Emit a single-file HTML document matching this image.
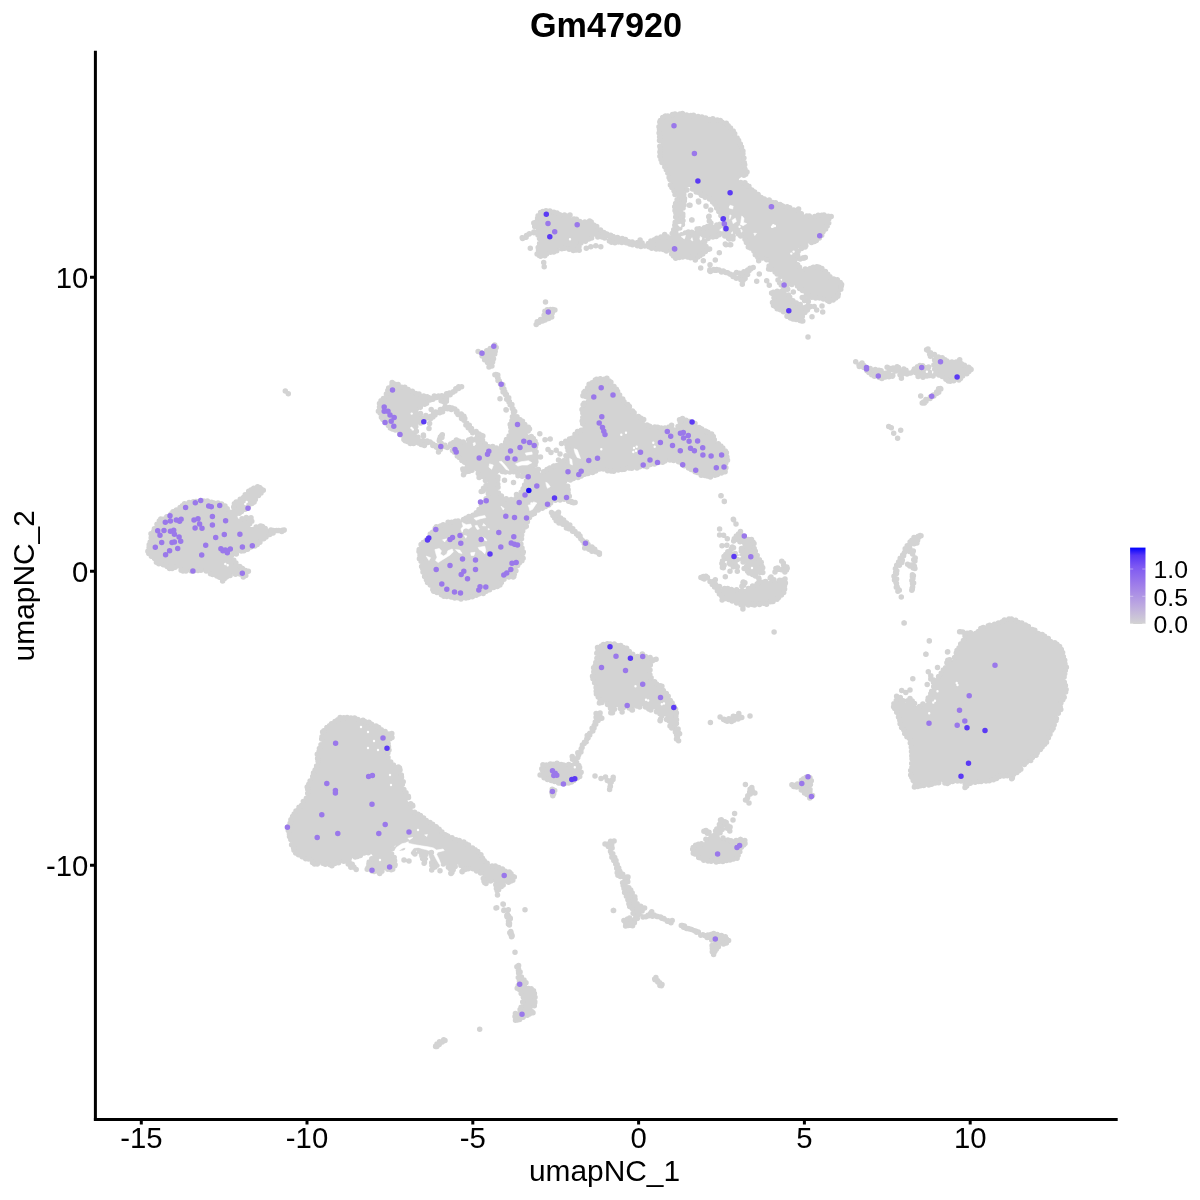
<!DOCTYPE html>
<html lang="en">
<head>
<meta charset="utf-8">
<title>Gm47920</title>
<style>
html,body{margin:0;padding:0;background:#fff;}
body{width:1200px;height:1200px;overflow:hidden;}
svg{display:block;}
text{font-family:"Liberation Sans",sans-serif;fill:#000;}
.tick{font-size:29.3px;}
.atitle{font-size:29.9px;}
.title{font-size:34.2px;font-weight:bold;}
.leg{font-size:24.8px;}
</style>
</head>
<body>
<svg width="1200" height="1200" viewBox="0 0 1200 1200">
<defs>
<linearGradient id="cb" x1="0" y1="1" x2="0" y2="0">
<stop offset="0" stop-color="#d3d3d3"/>
<stop offset="0.25" stop-color="#bca8e0"/>
<stop offset="0.5" stop-color="#a07fe9"/>
<stop offset="0.75" stop-color="#7d58f2"/>
<stop offset="0.9" stop-color="#5635f6"/>
<stop offset="1" stop-color="#0000ff"/>
</linearGradient>
</defs>
<rect width="1200" height="1200" fill="#fff"/>
<g id="points">
<path d="M970.1 633.3 964.7 633.9 963.9 638.5 956.4 651.1 953.7 658.9 952.3 659.9 948.5 660.6 945.5 668 940.3 674.8 935.5 678.8 933 679.8 934.1 684.6 934.1 685.7 930.6 694.3 926.7 702.6 919.5 706.4 918 706.6 916.7 706 909.8 699.8 906.2 702.2 904.5 702.4 903.2 701.7 900.3 698.2 897.2 697.7 893.5 704.5 894.8 709 899 715.7 900.7 724.2 905.5 733.7 910.7 741 912.5 758.3 910.9 776.2 913.2 780.8 915.1 785.8 919.8 785.8 926.2 785 941.4 781.7 948 783.2 954.8 780 962.4 781 967 784.5 972.6 781.8 983 781.7 992.6 779.3 999.7 776.7 1006.6 775.8 1011.6 776.5 1015.2 772.9 1020.6 769.9 1023.3 764.8 1030.1 760.5 1040.6 750 1044.6 744.5 1047.8 738.8 1054.4 725.7 1056.7 719.3 1058.4 709.3 1064.3 697.5 1065.8 690 1064.2 680.1 1065.8 669.9 1065 660.5 1062.7 652.6 1059.7 646.7 1045.3 637.1 1025.5 625.5 1017.4 621.5 1009.9 619.3 1004.1 620.7 997.4 623.2 989 624.9 981.4 628 976.8 632.6 975.7 633.2ZM930.2 372.8 927.6 367.6 920.3 366 913.8 369.5 913.8 370.6 915.3 373.1 918.5 376.3 922.7 376.8 928.7 376.2 931.2 375.2 931.2 373.5ZM934.4 371.9 935.3 372.5 936.2 373.8 941.2 375.2 945.4 379.2 949.7 381.1 959.9 379.1 961.9 376.6 966.6 373.9 969.3 371.8 970.6 368.7 970.1 367.9 961.3 363.5 959.5 361.6 957.6 362.5 949.8 362.3 944.3 359 937.5 356.9 927.8 350.3 929.3 354.9 933.4 357.3 934.4 358.6ZM940.5 389.1 939.9 389.1 937.5 392 928 399 923.2 402.1 928.2 399.5 938 392.3ZM897.8 588.7 896.2 576 897.7 568.4 901.7 562.9 903 557.8 906.2 551.6 908.3 550.8 911.9 552.3 913.2 550.7 912.2 547.1 912.4 545.7 913.3 544.6 916.6 542.9 917.8 538.8 920.5 535.5 919.1 535.3 914.7 537.4 911.2 540.4 907.5 545.3 895.7 568.8 894.5 574.8 895.1 580.8ZM912.9 563.2 912.2 564 909.8 565.4 909.8 565.8 913 567.4 913.9 567.2 914.1 566.2ZM914 560.3 914.7 559.4 914.6 559.2 914.4 559.2ZM911.9 589.5 912.3 589.1 913.3 584.9 912.9 580.7 913.1 575.8 912.4 580.5 912.8 584.8ZM889.3 368.5 897.4 371.9 900.9 375.2 903 373 907.3 372.8 905.2 370.1 897 367ZM881.9 378.1 890.6 375.5 889.7 375 883.4 373.5 881.1 370.3 876.7 369.8 865.8 367 862 364.4 860.2 365.7 863 367.4 871.4 375.1 876.7 376.9ZM534.9 231.9 537.8 233.4 540.8 239.4 540.8 240.6 538.3 247.1 538.3 253.3 540.4 255.8 544.2 255.8 548.9 252.8 555.6 251 559.5 248.4 567 248.4 573.5 250 578.3 249.4 581.2 242.9 582 242 588.8 239.5 592.7 236.8 600 236.7 607.7 238.6 611.2 241.8 616.7 242.5 623.8 241.7 632.3 244.2 667.4 250.9 668.4 251.6 674.4 257.5 697.6 257.5 701.1 254.1 704.9 251.5 706.1 249.8 708.1 249 706.4 246.5 703.9 241.3 704 239.6 704.9 238.5 714.1 236.2 716.4 236.2 721.1 235.1 726.4 236.4 728.9 238.7 732.1 237.9 732.6 236.4 731.3 234.2 731.3 232.6 732.7 231.2 734.6 231.2 736.2 232.1 738.1 233.9 741.7 235.9 744.8 240 748.6 246.3 755.4 251.9 757.7 257.5 763.4 257.5 764.7 258 768.9 263 769.7 268 784.6 279.5 784.9 281.2 784.1 282.6 782.8 283.2 780.8 283 781.5 286.8 780.8 288.6 776.5 291.6 771.7 292.8 771.6 293.2 773.7 296.7 773.8 297.7 772.6 302.4 774.6 306.4 779.2 309.8 784.9 312 787.8 316.2 791 318.3 797.4 319.6 800.7 321.2 801.5 320.8 800.9 319.1 801 317.7 803.9 313.3 811.3 306.3 809.4 304.7 808.1 300.6 805.7 300.1 806.5 302.1 806.3 303.5 805.3 304.6 803.1 305.2 795.5 303.5 790.9 299.1 786.9 293.8 786.6 292.6 786.8 291.4 790.4 284.7 792.5 284.2 796.7 285.9 802.2 290 806.1 293.9 810.6 296.2 824 298.9 829 301.4 832.9 300.4 837.3 297.1 841.9 285.1 839 281.3 832.5 278 826.9 273.8 821.9 268.7 817.7 266.6 807.7 269.1 801.7 268.5 800.2 267.7 796.9 263.1 797.4 261.1 800.9 258.6 798.8 258.3 797.6 256.8 797.5 250.5 797.9 249.1 799.4 248.1 804.6 247.1 807.3 243.9 814.2 241.7 818.9 238.2 822.6 233.3 826.4 226.9 829.8 217.3 828.8 216.3 822.1 215.2 812.5 217.2 802.6 214.4 798.4 212.5 797.7 211.5 797.5 210 792.5 209 764.5 199 755.9 194 745.4 183.6 740.3 182.3 739 180.9 738.9 179.5 739.4 178.4 743.7 175.4 746.5 172.7 744.2 165.7 742.9 156.4 742.8 148.6 737.2 137.2 732.7 130.2 726.5 124.1 719.2 120.4 706.2 118.5 692.9 115.8 681.3 113.9 667.4 115.8 661.8 118.6 659.8 122 659.8 134.6 660.5 144.1 659.2 151.9 661.7 160.5 664.9 168.3 669 176.5 671 184.5 674.3 191.1 677.2 198.5 675.2 206.9 675.8 217.7 674.4 226 672.1 234.2 671.2 235.3 665.6 236.5 664.1 236.3 655.9 239 652.2 240.5 648.5 244.2 647.3 244.8 646.1 244.7 640.7 242.9 629.5 241.6 609.2 234.9 602.2 231.4 595.2 226.2 590.6 221.7 581 221.6 572.2 218 569.1 215.1 562.9 215.8 554.3 212.4 546.7 210.9 541.5 212.2 534.3 223 535.8 229.9 535.6 231.1ZM683.1 209.2 684.4 201.2 684.3 192.6 687.6 187.6 688.8 186.9 690.1 186.9 700 193.9 711.1 199.5 718.1 210.6 723.9 218.2 724.2 220.3 722 223.4 717 225.4 714 225.1 710.2 223.2 708.9 225.1 707.4 226.3 698.2 229 692.8 231.7 681.3 234.3 680.1 234.2 678.7 233.3 678.3 231.7 681.6 224.6 682.6 217.1ZM809.6 788.6 811 780.1 810.2 777.5 805.9 777.5 799.3 783.2 793.5 785.4 793.8 786.1 800.4 788.9 805.6 794 809.7 796.5 811.2 795.1ZM784.7 570.6 786.8 568.8 786.8 566.6 783.8 564.7 783.6 566.3 782.5 567.5 777.2 567.8 776.6 568.6 776.8 569.5 780.3 569.5ZM722.6 598.3 725 597.5 726.4 597.7 733.1 601.8 739.8 604.5 743 607 748.9 604.2 754.7 605.4 759.8 604.2 766.2 603.5 772.4 601.7 777.2 599.3 780.7 595.7 783 592.3 785.4 582.9 784.4 580.5 774.4 580.5 771.2 578.7 768.8 581 757 583.7 751.3 587.8 745.9 589.1 744.7 589.1 743.1 587.9 742.8 585.3 740.5 588.4 739.4 589 730.5 589.2 721.5 588.2 717 585.8 713.9 581.2 711.8 581.2 710.6 580.8 707.4 577 703.6 576.6 702.9 577.3 704.1 578.6 708.7 580.6 713.3 585.1 716.6 590.4 720.8 594.6ZM723.1 567.1 723.5 567.5 723.7 562.7 724.7 561.3 726.1 560.9 727.3 561.2 730.2 564 734.5 563.1 736.8 559.4 736.7 557.7 737.1 556.6 738.3 555.7 739.7 555.6 741.2 556.5 742.3 560.2 746.2 564.8 746.5 566.2 745.8 568.1 747.5 569.4 748.6 572.6 753 573.7 757.5 577 757.5 575.5 758.1 574.4 761.7 571.9 762.1 568.1 761 562.3 755 552.9 753.5 546.8 754 542.4 751.6 540.4 746.6 539.4 740.3 533.1 738.9 534 734.2 539 734.5 539.8 737.2 540.5 741.6 543.4 742.3 544.3 742.5 545.7 740.9 553.2 739.9 554.2 738.2 554.5 733 552 731.7 550.5 731.6 549.2 732.2 548 731.6 548 727.7 551.9 724.4 556.8 723.1 561.5ZM751 789.3 750 789.8 747.4 796.7 746.9 799.5 747.1 799.6 748.1 796.4 752.8 792.4ZM735.8 276.5 726.1 272.5 718.3 269.8 709.8 270.6 710.3 270.9 718.5 270.4 726 272.9 733.8 276.2 741.2 279.9 742.4 281.1 744 279.7 746.5 274.7 750.9 268.7 744.1 271.7 738.7 273.5 738.4 275.2 737.2 276.3ZM736.3 857.9 739.9 850.7 744.3 843.6 743.8 841.5 740.3 839.2 738.2 840.5 729.7 840.5 721.4 838.4 720.3 837.9 719.7 836.9 719.6 835.4 722.1 828.4 723.1 827.7 724.3 827.5 728.6 828.9 729.2 827.2 726.4 822.2 721.3 820.9 718.1 827.3 713.4 833.1 711.6 833.5 706.3 830.9 705.6 831.5 708.2 834.8 708.5 836.5 703.8 842.7 702.6 843.4 695.4 845.2 692.8 848.6 694.2 853.6 699.3 857.8 706.6 860.5 717.9 861.5 729.5 859.6ZM724.1 719.5 726.8 721.8 731.3 721.5 739.4 717.2 738 715.3 734.9 716.3 728.7 719.4ZM423.5 436.9 422.5 438 421.4 438.5 420.2 438.5 419.1 437.9 416.4 433.8 415.2 428.8 415.6 427.7 418.1 424.6 421.5 422.2 425.8 417.8 427.6 417.2 429.9 418.6 430.9 418.4 446.2 409.1 452 410 456.2 412.6 460.3 415.8 466.6 425.7 470.9 431.1 474.6 433.7 475.1 434.8 474.8 436.3 474.1 437.2 466.5 442.2 458.1 441.8 456.7 441.4 449.7 445.1 443.5 445.7 441.9 445.1 440.1 442.8 440.3 444.6 439.4 446 440.4 447.1 441.4 446.3 442.6 446.1 450 447.9 451.1 448.8 452 450.5 456.3 452.8 458.2 456.3 460.1 457.1 464.8 463.6 464.9 465.3 462.8 470.4 464.2 472.3 472.6 469.7 474.1 469.8 479.5 475 481.1 474.5 482.7 475.1 487.3 482.1 487 484 483.9 488 483.3 491 484.8 491.7 486.1 491.7 487.2 492.2 487.9 493.2 488 494.7 482.7 504.6 479.3 509.8 471.2 516.2 460.5 520.8 449.6 522.4 436.6 527.1 429.5 536.5 422.1 544 418.8 550.4 420 559.5 422.4 569.2 427.2 581.3 434.1 590.5 445.8 596.3 459.9 598.7 476.8 595.1 489 590.2 498.5 585.4 506.3 577.8 513.3 577.5 518.8 563.9 522.8 558.5 522.4 555.9 523.6 552.5 520 542.2 522.6 529.1 523.4 527.9 526.3 526 527.8 518.8 540.7 508.9 546.7 505.8 551.4 502.8 557.6 499.7 566.5 499.5 572 502.2 572.5 501.9 569.6 498.2 566.5 484.1 567.1 482.3 570.9 479.5 583.8 473.8 592.5 472.3 598 469 600.5 468.3 603.3 468.6 610.3 471.2 622.1 470 634.5 467.5 646.9 466.3 654.4 463.3 672 460.2 679.6 461.7 688 467.2 701 475 708.1 476.8 717.9 474.9 724.5 471.6 727.5 458.5 726.9 453 722.2 447.1 715.4 441.6 712.7 435 706.8 431.5 698.6 427.4 694.7 423.6 682.7 420 680.6 420.7 678.2 426.5 676.9 427.7 675.5 427.8 671.9 426.6 666.9 427.8 660 428.5 654.5 426.6 653 426.8 646.3 424.7 643.4 420.3 636.9 415.1 630.1 408.3 623 399.9 617.9 391.4 610.7 381.7 606.7 378.4 595.9 379.9 592.3 382 589.4 384.2 584.8 392.7 584.8 394 584.3 395.4 586.1 397.3 586.5 398.8 586.1 400 582.5 404.8 582.4 428.1 581.7 429.2 578.1 431.9 574.1 436 567.2 441.4 567.5 443.5 567.5 452.8 565 460 556.8 465.1 550.7 468.2 542.9 472.8 541.7 473 540.4 472.4 535.6 467.6 535.1 466.5 536.5 457 535 449.3 536.4 443.8 534 439.1 527.7 434.1 527.6 432.4 528.7 428.9 526.6 425.6 515.9 414.8 512.7 407.4 496.3 374.8 496.1 375.3 512.2 407.5 513.9 411.9 512.9 417.2 510.1 424.2 511.5 430.4 508.2 438.7 503 444 497.8 447.9 496.7 448.2 492.9 447.2 486.6 446.1 485.5 445.5 481.7 439.3 481.7 437.8 482.5 436.2 482.3 435.5 472.5 429.9 468.2 424.5 461.9 414.6 457.3 410.9 453.1 408.3 445.7 407 428.7 417 423.3 415.7 419.1 412.9 418.5 411.6 418.6 410.2 422.4 405.6 431.5 399.3 436.1 397 430.3 397.9 421.2 395.7 396.3 384.3 392.7 383.6 389.5 387.6 385.1 396.2 380 403.4 379.1 410.8 380.9 415.5 384 420.6 387.1 424.7 390.9 428.5 396.3 430.7 399.4 433.8 403.3 434.8 404.3 435.5 405 437.2 404.2 440 405.1 441.5 413.6 443.3 420.1 443.4 423.9 444.3 428.1 442.3 430.5 443 430.1 442.4 425.9 440.2ZM518.4 472.5 519.6 473.1 525.9 479.4 526.4 480.5 526.3 481.9 520.1 494.4 515.3 499.3 513.7 500 506.6 499.8 500 495 499.1 493.8 497.5 488.8 497.7 474 499.3 472.6 507.3 471ZM437.3 396.8 438.9 397.5 440.9 400.3 443.4 400.9 445.9 399.7 446.7 396.3 447.4 395.3 453 392.8 455.8 389.7 446.7 395.1ZM701.2 934.1 702.5 935.1 708 937.2 712.8 941.3 713.2 942.7 712.5 948 713 951.5 713.6 952.1 716 950.4 718.5 945.4 723.1 944.3 726.1 942.2 727.1 940.7 725 937.4 719.3 935.1 713.3 933.9 706.7 935.2ZM596.7 693.6 599.5 698 600.2 702 605 702.7 610.1 706.1 610.8 707.1 612 711.2 616.8 707.1 618.5 707.2 622 709.5 626 706.6 627.2 706.3 628.6 706.7 631.9 709.3 636.2 706.4 643 706.2 644.2 706.5 648.3 709.2 654.7 709.6 659.8 713.8 661.5 716.8 664 716 666 717 670 723.4 670.8 727.6 674.3 730.6 677.3 737.8 677.7 738 679.3 733.5 677.3 727.7 676.5 720.2 676.5 713 674.5 707.6 670.8 701.6 668.6 695.9 664.2 691.4 662.1 686.6 658 684.5 652 680 651.2 679 649.5 673.8 649.5 664.2 650.3 662.7 653.6 660.4 650.9 658.5 642.9 655.4 641.4 656.8 640.3 657.2 634.6 656.3 629.4 651.4 623.8 647.2 618.3 645.2 610 643.8 602.1 645.1 598.7 647.9 597.5 652.8 597.5 660.5 594.4 666.7 593.1 677.7 595.9 686.5ZM624 890.9 628.1 900.6 629.9 906.4 631.6 907.6 633.8 912.5 633.1 916.7 632.5 917.7 631.3 918.4 627.2 919 625.4 920.8 626.2 925.4 628.7 926.1 631.9 925.1 634.2 922.2 639.6 916.9 640.9 916.2 645.9 916.8 652.2 915.5 659.4 916.9 663.8 918.7 660.5 917.1 653.7 915.6 651.5 913.4 647.2 916.2 646 916.5 644.7 916.1 641.7 913.8 641.3 912.1 642.2 908.7 636.6 902.6 632.8 893.1 627.7 884.9 626.7 878.3 620.8 873.2 615.7 861 611.7 852.9 612.4 842.3 610.4 841.1 607.2 844.3 610.3 849.1 612.4 857.1 616.3 865.1 618.3 874.8 622.3 879.1 624.1 889.3ZM661.4 984.7 656 979 655.3 978.6 654.8 978.8 654.6 979.3 655 980 660 985 660.9 985.3ZM610.2 785.4 610.6 782.2 611.9 780 609.2 781.3ZM578.5 753.6 596.6 723.2 600.5 718 599.3 714.5 597 714.8 595 722.6 586.7 739.1 578.3 753.2ZM581.3 539.2 584.8 544.5 585 548 589.4 549.2 595.3 552.1 597.6 552.4 588.4 544.4 582.3 539.9 576.1 532.2 568.8 524.8 561.4 518.2 554.9 513.6 552.8 513.9 552.8 516.1 555.7 519.7 567.4 528.4 575 533ZM571.5 782.1 579.4 776.9 581.1 772.5 579.3 767.6 573.9 759.5 573.3 761.6 572.5 762.5 565.7 765.2 557.3 763.8 550.4 763.8 544.1 765.6 541.9 768.9 541.4 774.5 545.4 777.9 550.9 780.7 558 782.8 564.9 783.5ZM552.3 792.3 552 793.5 553.1 794.5 553.5 794.5 553.5 791ZM538.2 322.4 542.3 321.1 551.2 316.6 553 310.7 552.3 310 548.7 310 545.2 311.2 543.1 316 540.5 320.5ZM523.7 996.9 524.1 998.7 522.2 1002.2 522.5 1005 522.2 1006.2 518.5 1010.9 515.1 1013 516.2 1019.4 519.2 1019.2 523.8 1016.1 529 1014.4 532.5 1012.6 532.6 1007.7 535.3 1003 534.2 998.5 534.9 993.2 533.3 991 528 987.3 521.2 975.4 519.4 969.4 518.2 967.7 517.8 970 518.3 974.6 520 981.5 518.5 988 520.5 992.1ZM314.8 863.5 322.2 863.5 331.6 865.4 337.3 862.6 344.3 861.5 345.6 862.1 351.1 866.6 353.5 867 351.5 860.5 352.1 858.4 353.3 857.6 358.9 856.6 364.6 851.9 366.4 851.5 371.3 853.9 372.5 855.7 372.2 857.2 368.5 862.8 368.5 868.7 373 871.7 379.5 873.3 385.3 869.6 392.7 869.5 395.4 865.4 394.6 860.7 391.5 852.1 391.8 850.9 394.2 846.3 395.2 845.6 396.6 845.6 400.3 848.1 402.4 847 406.4 842.1 408.3 841.5 410.1 842.7 414.4 851.2 418 850.5 419.9 851.4 422.3 856.9 424.3 860.6 427 857.7 428.4 857.5 429.7 858.2 432.2 864.6 434.3 866.8 438.8 863.8 440 863.5 447.2 865.8 451.9 870.3 456.3 865.2 457.8 864.5 459.4 864.9 464.6 869.3 469.4 868.1 470.7 868.2 478 871.2 483.1 876.2 484.3 878.9 484.8 882.5 485.7 883 488.9 881.1 490.2 880.8 494.8 883 495.9 885.2 496.5 890.5 497.1 891.1 498.9 888.4 501.1 886.3 504.9 883.8 512 881.1 512.9 880 513.9 877 511.6 873.6 509.4 872.5 506.2 872.2 500.8 868.2 496.3 866.4 488.7 865.1 482.1 857.6 476.3 849.9 468.8 845.2 461 841.3 452.9 838.2 444.7 834.1 428.5 822 421.5 816 413.3 810.8 412.5 809 413.2 805.2 407.9 801.4 407.5 799.8 408.3 795.8 403.6 790.8 401.5 774.5 399.9 767.9 394.6 766.1 388.2 759.8 387.6 758.7 388.5 750 387.5 741.6 388.1 740.4 391.3 737.2 390.8 734.6 374.9 725.2 363.3 720.4 349.8 717.5 338.9 718.4 329.6 724.9 322.4 732.1 321.4 742.5 317.5 754.4 317.5 764.5 312.3 777 307.5 786.6 307.3 795.9 302 804.6 296 810.5 290.3 820.9 288.5 828.2 289.5 835.5 291.4 843.3 294.1 851.4 301.2 855.8 309.4 859.9ZM511.8 935.9 511.1 933.2 510.8 932.8 511.4 935.7ZM509 923.8 509.4 923.1 509.5 918.7 508.1 915 507.5 914.5 507 915 508.6 919.1 508.4 923 508.5 923.6ZM494.9 348.1 494.1 347 486.1 351 481 352.7 485.8 361.1 489.7 365.9 491.7 365.4 493.8 357ZM444.5 1040 443.7 1040 439.6 1042.2 435.7 1045.3 435.5 1046.1 436.3 1046.1 440.3 1042.9 444.2 1040.9 444.6 1040.5ZM169.9 568.1 176.9 567.7 183.2 570.8 190.7 570.2 198.7 570.8 207.2 570.2 208.3 570.7 212.1 574.5 218.5 577.1 222.7 579.7 226.9 577.1 232.2 574.4 238.1 572.9 239.8 573.1 243.1 575.3 245.9 574.6 246.6 572.1 243.7 569.2 236.7 563.6 233.7 559 233.5 557.5 234.1 556.4 237.5 553.1 253.4 546.5 269.4 534.5 276.4 531 280.5 530.5 270.2 529.8 261 526.5 251.2 527 250.2 526.4 249.5 525.1 249.7 523.6 251.2 521.1 250.2 518.8 246.6 517.9 239.8 519.2 238.6 518.7 237.7 517.6 237.5 516.2 238.2 514.9 241.2 512 252.9 502.9 258 496.5 261.8 490.5 260.8 488.5 257.3 486.8 252.1 489.4 235.3 503.6 232.8 508.7 231.4 509.7 229.5 509.5 225.4 506.8 219.2 503.7 206.4 501.2 196.3 501.2 185 503.7 176.2 509.3 169.4 516.1 160.4 520 151.7 533.7 148.5 546.3 148.5 552.9 152.5 556.3 157.5 562.5 165.1 565.1Z" fill="#d3d3d3" fill-rule="evenodd"/>
<path d="M551.7 317.1h0M548.7 318.6h0M545.1 320h0M542.5 321.1h0M538.9 322.6h0M536.2 324.4h0M537.2 321.7h0M540.6 319.4h0M544.1 315.2h0M544.9 311.3h0M547.2 309.7h0M550.3 309.6h0M552.8 309.4h0M554.9 310h0M552.2 313.1h0M496.2 347.6h0M495.2 351.2h0M494.7 354.1h0M493.5 358.8h0M492.6 361.9h0M491.9 366h0M489.7 365.8h0M489 367h0M487.5 362.5h0M484.6 359.8h0M482.1 356.1h0M481.7 353.4h0M478.1 351.5h0M481.4 352.7h0M486.7 350.7h0M490.2 348.5h0M493.5 347.3h0M494.7 344.9h0M497.8 374.9h0M498 378.3h0M499.3 381h0M502.8 384.8h0M503.9 388.9h0M504.8 391.8h0M506.4 394.4h0M508.7 397.8h0M509.4 401.5h0M511.9 404.6h0M512.9 408.8h0M514.7 411.5h0M517 416.7h0M520.1 419.7h0M522.5 421.2h0M524.8 424.5h0M528.4 427.3h0M529.5 429.1h0M528.1 431h0M531.3 436.6h0M533.3 438.4h0M535.1 441.2h0M536.1 443.9h0M535.5 446.8h0M536.1 451.8h0M536 456.1h0M535.8 458.8h0M535.9 461.8h0M535.1 464.9h0M538.4 469.4h0M543.6 471.8h0M547 469.5h0M549.8 468h0M553.4 466.5h0M557.1 465.4h0M560.8 462h0M563.7 460.7h0M565.9 455.8h0M568.1 450.6h0M567.4 447.6h0M566.8 444.5h0M565.7 441.2h0M569.5 438.9h0M572 438.3h0M575 434.2h0M577.5 431.5h0M581.2 430.3h0M582.7 423.7h0M582.2 421.1h0M582.8 417.4h0M582.8 412.9h0M582 409.5h0M583.1 404.8h0M584.1 403.2h0M585.8 396.6h0M582.9 395.8h0M583.9 392.5h0M585 391.3h0M587.6 387.9h0M589.1 384.2h0M592.2 382.7h0M595.3 379.9h0M596.6 379.3h0M600.3 378.8h0M605 379.1h0M606.9 378.3h0M609.2 380.9h0M610.9 382.2h0M614 386.6h0M616.4 389.2h0M617.6 391.4h0M619.6 394.9h0M622.7 398.9h0M624 401.8h0M627.7 404.5h0M629.4 406.5h0M632.5 411.1h0M634.1 412.8h0M638.4 416.5h0M640.6 418h0M643.7 419.5h0M647 425.1h0M649.7 426.3h0M654.8 427h0M657.7 427.3h0M661.2 428h0M665 428h0M669 427.1h0M671.6 425.3h0M678 426.5h0M680.3 422.6h0M679.5 419.7h0M682.5 418.6h0M686 420.3h0M689.5 421.5h0M692.1 423.2h0M695 423.6h0M699 427.6h0M701.7 428.9h0M705.3 431.1h0M707.9 432.2h0M711.6 433.9h0M713.3 436.5h0M714.3 439.8h0M718.3 443.8h0M720.8 445.9h0M722.8 448.1h0M725.3 450.9h0M726.4 452.7h0M726.9 456.9h0M727.5 460.3h0M725.8 463.1h0M725.9 467.7h0M725 470h0M725.1 471.8h0M721.4 473h0M717.4 474.6h0M714.9 475.3h0M710.4 477h0M707.3 476h0M704.8 475.4h0M701.2 475.2h0M697.3 472.4h0M695.1 471.7h0M691.2 469.5h0M688.5 467.9h0M684.3 465.7h0M681.7 463.3h0M678.5 461.8h0M673.7 460.5h0M669.9 459.9h0M664.9 461h0M662.6 462.3h0M658.9 462.2h0M654.5 463.9h0M650.3 464.4h0M646.9 466.7h0M644.3 466.1h0M639.7 466.8h0M637 468h0M631.8 468.3h0M629.1 468.1h0M624.4 469.2h0M621.9 469.6h0M618.2 470h0M613.7 471.2h0M611 470.9h0M607.6 470.8h0M603.4 469.1h0M599.5 469.1h0M595.7 471h0M592.6 472.6h0M588 473.4h0M584.6 474.2h0M581.2 476h0M578 477.4h0M573.3 478.5h0M570.3 480h0M567.6 486.2h0M568.1 489.8h0M568.1 492.9h0M569.3 496.3h0M571.4 501.5h0M575.1 502.5h0M572.3 502h0M571.6 502.3h0M568.6 501.2h0M564.2 499.3h0M560 500.1h0M555.4 500.3h0M550.6 503.1h0M548.7 505.1h0M545.5 506.6h0M542.3 508.2h0M538.2 510.1h0M534.4 513.6h0M532.1 514.6h0M529.5 517.6h0M527.4 521.7h0M526.3 526.3h0M525.1 526.9h0M522.7 531.1h0M521.7 534.9h0M521.5 538.7h0M520.9 543.9h0M522 548.1h0M523.3 552h0M522.7 553.6h0M523.1 558.2h0M521.9 560.7h0M519.3 562.9h0M517.6 565.6h0M515.9 570.8h0M514.4 573.9h0M513.8 576.6h0M513.2 577.1h0M508.9 577.1h0M504 579.3h0M501.4 582.4h0M499.9 585.1h0M497.3 586.4h0M493.6 587.5h0M489.6 589.8h0M486.1 591.2h0M483.2 593.4h0M478.7 594.1h0M476.2 595.3h0M472.3 596.8h0M468.4 597.4h0M465.9 597.9h0M461 599h0M458.2 597.8h0M454.7 598.1h0M451.1 597.1h0M446.8 596.4h0M443.9 596.2h0M441.4 594.7h0M437 592.4h0M433.7 591.2h0M432.8 589.4h0M430.3 585.1h0M427.5 582.4h0M426.4 579.7h0M424.6 576.4h0M423 572.1h0M422.7 568.4h0M421.6 566.6h0M421 561.3h0M419.4 558.8h0M420 555.3h0M419 551.6h0M419.2 549.5h0M421.1 544.5h0M423.3 542.6h0M426.3 540h0M428.3 538.4h0M430.3 534.1h0M432.6 532.2h0M435.2 528.3h0M436.4 526.8h0M440.5 526h0M443.2 524.8h0M448.1 522.3h0M451.7 522.3h0M455.4 521.2h0M458.1 521h0M463.5 519.5h0M465.8 518.3h0M468.9 516.4h0M473 515.3h0M476.3 512.8h0M479 509.4h0M481.4 505.6h0M484.2 502.8h0M486.1 498.7h0M488.3 493.7h0M483 490.9h0M482.6 491h0M483.5 488.3h0M486 485.4h0M485.4 480.5h0M482.8 476.3h0M479.1 477.5h0M478.3 473.4h0M472 470.3h0M469 471.3h0M465.6 472.1h0M463.5 474.8h0M463.2 470.2h0M462.8 468.9h0M464.6 462.2h0M461.9 460.6h0M459.3 457.4h0M457.3 456h0M454.5 452.2h0M452.5 450.5h0M447.3 447.5h0M444.3 446.6h0M440.3 449.4h0M438.5 451.9h0M439.1 449.8h0M436.5 447.2h0M433.3 444.6h0M432.8 445.4h0M427.9 442.6h0M424.4 445.6h0M421.1 444.4h0M418.5 443.1h0M413.6 443.5h0M410.3 443.5h0M407.3 441.5h0M405.2 440.8h0M403.9 439.5h0M402.6 435.2h0M399.7 433.8h0M395.4 430.1h0M392.4 428.9h0M390.3 427.9h0M388.4 425.6h0M386.1 422.6h0M382.9 419.5h0M381.4 417.2h0M380.1 412.9h0M378.4 411.3h0M379.5 407.1h0M379.5 403.5h0M381 400.7h0M383.4 398.4h0M386.4 393.9h0M387.8 390.6h0M388.7 388.1h0M392 384.7h0M392.1 382.6h0M395 384.2h0M398.1 384.6h0M401.7 387.2h0M404.8 387.2h0M408.1 389.5h0M412.3 391.2h0M415.7 393.5h0M419 394.1h0M423.7 395.9h0M427.1 396.7h0M429.6 398h0M434.3 396.1h0M438.5 396h0M441.8 395.7h0M446.6 393.8h0M449.5 393.1h0M453.3 391.8h0M455.8 388.8h0M458.7 386.7h0M461.6 386.7h0M458.5 388.5h0M455 391.1h0M452.8 392.3h0M450.1 394.8h0M446.5 398.4h0M446.4 399.8h0M443.6 401.7h0M441.1 400.7h0M436.5 397.5h0M432.9 399.2h0M429.9 400.1h0M426.6 403.2h0M424.6 404.3h0M420.3 407.3h0M420.5 413.5h0M425.9 415.6h0M430.5 416.6h0M433.6 413.2h0M435.6 412.1h0M440.4 409.5h0M443.9 408.5h0M445.3 406.6h0M449.5 407.6h0M452 408.1h0M454.8 408.9h0M457 411h0M461.2 413.9h0M463.9 416.2h0M464.8 418.5h0M466.8 423.2h0M469.3 425.2h0M471.5 428.4h0M476.1 431.4h0M479 433.9h0M481.9 435.5h0M482.9 435.9h0M482.5 440.2h0M485.3 444h0M488.7 446.7h0M492.7 446.4h0M496.4 448.1h0M501.6 445.8h0M505.6 442.3h0M506.5 439.5h0M509.1 436.1h0M510.9 431.5h0M510.7 427.3h0M510.2 424.5h0M511.9 420.8h0M512.4 416.7h0M513.5 412.3h0M512.3 408.4h0M510.2 404.7h0M509 402.1h0M506.7 399.2h0M505.4 394.6h0M503.1 391.9h0M502 388h0M500.5 383.9h0M498 380.5h0M497.6 377.5h0M494.9 374.8h0M495.9 374.6h0M423.5 436.1h0M427.1 440.9h0M430.1 442h0M432.8 444h0M436.1 445.7h0M439.3 440.7h0M439.6 439.3h0M440.4 437h0M442.3 434.8h0M441.9 437.5h0M441.1 443.2h0M445 445.3h0M450.7 444h0M453.5 442.6h0M456.4 440h0M459.2 441.2h0M463.3 441.9h0M468.7 440h0M471.4 439.1h0M472.6 432.8h0M471 430.4h0M468.2 427.7h0M465.9 424.9h0M464 420.3h0M461.5 418.4h0M458 414.6h0M456.5 412.2h0M451.3 409.5h0M447.5 408.8h0M442.6 411.7h0M439.7 412.8h0M435 415h0M432.9 416.9h0M430.5 418.7h0M426.8 417.9h0M422.2 420.8h0M420.7 422.9h0M415.8 426.5h0M416.4 431.3h0M418 437.2h0M423.4 435.1h0M517.5 472.7h0M513.7 471.8h0M509.9 471.9h0M505.4 471.9h0M502.2 471.6h0M498 477h0M497.7 479.7h0M497.8 484.2h0M498 487.3h0M498.4 493.1h0M501.4 496h0M506.2 498.7h0M511.1 499.4h0M516 498.5h0M518.6 495.4h0M521.2 492.2h0M523.1 488.7h0M524.6 485h0M526.4 481h0M522.2 476.3h0M175.2 567.3h0M172.1 568.4h0M169.6 568.6h0M167.1 566.6h0M163.3 564.7h0M158.8 563.7h0M156.4 562.2h0M154.6 558.5h0M151.4 556.3h0M148.8 553.5h0M147.9 551.2h0M149.1 547.5h0M149.2 544.7h0M150.2 542.1h0M151.2 537.8h0M151 533.7h0M153.8 531.2h0M154.4 528.7h0M157 524.3h0M159.3 520.9h0M160.8 519.1h0M164.2 518.9h0M166.8 516.8h0M171.1 514h0M173 511.8h0M176.4 509.9h0M180.1 507.4h0M182.4 505.7h0M184.5 503.7h0M189.1 502.4h0M193.4 501.8h0M196 501.6h0M198.9 501.8h0M203.7 500.9h0M207.4 500.9h0M211.4 502.2h0M213.9 502.9h0M218 502.9h0M221.6 504.1h0M225 506.1h0M227.2 508.7h0M233.7 507.1h0M234.4 503.8h0M236.2 502.1h0M240.2 499.2h0M243.5 497.4h0M245.2 494.7h0M248.7 491.3h0M250.9 490h0M253.8 488.2h0M257.6 486.7h0M259.6 487.4h0M261.2 489h0M263.3 490.2h0M261 492.9h0M258.5 495.5h0M255.3 499.4h0M254.1 502.1h0M251.9 503.5h0M248.4 506.9h0M245.2 509.2h0M241.5 511.5h0M239.2 513.2h0M242 518.8h0M246.3 517.5h0M248.3 518.6h0M251 517.7h0M251.8 521.3h0M249.7 523.7h0M256.2 527h0M260.5 526h0M262.4 526.6h0M265.2 528.5h0M270.9 530.1h0M273.2 530.4h0M278.7 530.4h0M282.5 530.3h0M283.9 530.3h0M284.2 530h0M281.8 531.6h0M276.6 530.6h0M273.1 533.1h0M269.7 534.6h0M266 537.1h0M263.7 538.7h0M259.9 542.2h0M257.2 544.6h0M254.9 546h0M250.8 547h0M247.6 549.3h0M243.9 550.8h0M241.2 551.1h0M236.3 553.9h0M233.8 560.3h0M235.9 563h0M239.7 566.5h0M242.4 568.4h0M245.5 570.6h0M248.4 571.2h0M245.6 574h0M245.8 575.4h0M243.3 576.9h0M239.9 573.9h0M235.5 574.3h0M230.1 575.4h0M226.4 577.1h0M224.3 578.7h0M222.6 581.1h0M219.5 577.2h0M216.9 576h0M212.7 574.4h0M210.5 573.7h0M206.2 571h0M200.9 570.3h0M198 570.4h0M194.1 570.8h0M191.3 570.9h0M186 571.1h0M183 571h0M181.1 570.3h0M571.5 781.9h0M568.6 783.1h0M564.4 783.5h0M560.8 783h0M558.6 783.1h0M554.7 781.5h0M551.2 780.6h0M547.5 779.5h0M544.1 777.7h0M541.3 775.1h0M540.1 775.1h0M542.4 770h0M541.8 768.8h0M542.9 764.8h0M546.3 764.9h0M550.3 764.1h0M553.1 764.3h0M557 763.3h0M561.1 764.4h0M563.7 765.1h0M568.7 764.4h0M572.5 759.3h0M572.2 756.6h0M573.7 758.8h0M576.6 762.4h0M578.8 765.5h0M579.6 767.4h0M581.1 772.3h0M580.4 773.1h0M579.7 776.6h0M577.3 778h0M573.8 780.5h0M551.9 792.4h0M552.2 789.3h0M554.7 790.5h0M553.7 793.8h0M552.8 795.8h0M552.4 794.1h0M314.5 863.9h0M312.5 862.4h0M308.6 859.1h0M305.7 858.7h0M302.2 856.7h0M298.5 854.8h0M295.7 853h0M294 850.3h0M293.6 848.1h0M291.6 844.8h0M290.8 839.5h0M289.5 836.4h0M289.4 833.9h0M288.3 830.4h0M288.1 826.8h0M290.1 823.3h0M290.9 819.7h0M292.6 816.4h0M294.2 814h0M296 810.9h0M299 807.3h0M301.5 805.4h0M303.3 801.6h0M306.4 798.3h0M307.7 793.2h0M307.7 789.3h0M307.2 786.9h0M308.8 784.2h0M310.1 781h0M312.7 776.4h0M313.5 772.9h0M315.1 769.9h0M316.6 766h0M318 761.3h0M317.6 758.5h0M317.3 754.3h0M319.1 751.4h0M319.4 748.4h0M321 744.7h0M321.7 738.9h0M322 736.7h0M322.6 732.1h0M323.9 730.8h0M326.9 727.5h0M329.5 725.8h0M331.5 723.8h0M335 721.5h0M337.9 719.8h0M340.1 717.6h0M343.8 717.8h0M347.1 717.5h0M350.9 717.9h0M354.6 718.1h0M357.9 719.5h0M363 720.3h0M364.7 721.4h0M368.9 722.2h0M371.6 724.2h0M376 726h0M378.7 727.5h0M381.3 729.7h0M385.1 731.5h0M389 734h0M391.8 733.4h0M392 737.4h0M390.1 738.8h0M388.1 743.8h0M388.5 746.7h0M389 750.1h0M387.9 752.9h0M388 757.6h0M390.7 762.1h0M393.4 765.1h0M398.4 767.1h0M399.5 767.9h0M400 770h0M401.3 774.9h0M401.5 777.2h0M403.2 781.8h0M402.3 784.6h0M403.9 789.4h0M406 792.7h0M408.3 796.2h0M408.5 797.5h0M410.7 803.8h0M412.6 805.3h0M412.8 805.9h0M414.6 812.2h0M418 814.3h0M420.4 815.5h0M423.6 818.1h0M426.2 820.6h0M430 822.6h0M432.6 824.3h0M436.1 826.8h0M439.1 829.2h0M441.9 831.9h0M445.2 834.8h0M447.7 836.1h0M452 837.8h0M456 839.8h0M459.3 840.4h0M463.8 841.9h0M466.3 844h0M468.5 845.1h0M472.5 848.1h0M475.1 849.8h0M477.7 851.6h0M480.9 854.8h0M482.5 858.2h0M484.2 860.7h0M487.2 863.3h0M492.1 866.1h0M495.3 866.1h0M498.7 867.4h0M502.4 868.9h0M505.3 871.3h0M509.3 872h0M511 873.8h0M513.1 876.4h0M514.3 877h0M512.8 880.3h0M511 881.1h0M508.5 882.2h0M503.2 884.9h0M501.4 886.5h0M498.6 889.8h0M497.5 894.9h0M497.2 890.7h0M496.4 888.6h0M495.8 884.8h0M490.6 881h0M486 883.4h0M484.8 882.7h0M484 881.3h0M483.3 878.4h0M480.6 873.1h0M476.6 870.9h0M473 868.8h0M468.3 868.8h0M465.1 869.4h0M463.8 868.8h0M460.9 865.5h0M455.2 866.5h0M453.2 869.8h0M452 872.2h0M449.9 868.6h0M448.4 867.2h0M443.3 863.9h0M437 865.2h0M435 867.1h0M434.1 867.3h0M431.9 865.5h0M431.7 862.8h0M425.5 858.3h0M424.5 862.3h0M424.1 863.3h0M422.6 858.4h0M421 855.3h0M420.9 852.6h0M413.5 852.6h0M413.2 850.4h0M412.4 846.8h0M411.1 843.5h0M404.1 844h0M402.6 847.8h0M400 848.1h0M397.9 847.1h0M392.7 848.5h0M391.6 853.9h0M394.2 857.6h0M394.6 860.8h0M395.1 864.7h0M394.8 865.7h0M392.7 869.3h0M391.2 869.7h0M387.8 869.2h0M381.9 871.3h0M379.7 873.6h0M379.1 872.6h0M374.1 871.6h0M372.1 871h0M367.2 869.2h0M368.1 867.5h0M368.9 864h0M369.2 862h0M371.8 858.7h0M368.3 852.8h0M364.1 852.9h0M360.3 855.5h0M357.4 856.4h0M355.2 856.9h0M352.2 864.3h0M354 867.3h0M356.2 869.5h0M353.1 866.4h0M350.8 867.3h0M348.2 863.9h0M343.7 861.3h0M338.6 862.8h0M334.8 863.6h0M331.9 865.8h0M330.1 864.8h0M325.3 864.3h0M322.8 863.3h0M317.3 864h0M509.4 924.9h0M508.4 923.9h0M508.5 921.2h0M507.2 917h0M507 915.3h0M507.6 914.5h0M508.5 916h0M510.3 918.7h0M509.5 923.5h0M511.8 935.7h0M511.5 936.7h0M510.7 934.6h0M509.8 932.8h0M510.7 931.6h0M511.7 934.8h0M523.3 997.1h0M521.2 993.4h0M519.7 989.8h0M517.2 988.2h0M518.3 985.6h0M519.4 981.1h0M518.3 977.6h0M518.6 973.1h0M518.4 970.2h0M516.9 966.8h0M518.6 965.5h0M518.5 969.1h0M520.1 971.9h0M521.4 977h0M524 979.9h0M526 982.7h0M528.4 988.5h0M531.2 988.7h0M533.5 990.8h0M534.4 993.4h0M535 997.2h0M534.8 1001.8h0M534.7 1002.8h0M534.3 1005.8h0M532 1011.7h0M533 1012.8h0M529.4 1013.9h0M527.3 1015.3h0M523.1 1017.3h0M519.6 1019.6h0M517.3 1019.9h0M515.5 1020.2h0M515 1016.5h0M515.7 1014h0M515.4 1013.4h0M520.1 1009.6h0M521.1 1007.3h0M522.7 1002.1h0M444.5 1040.2h0M445 1040.4h0M442.2 1042.1h0M439.2 1044.6h0M436.9 1046.5h0M435.6 1046.4h0M435.7 1046.1h0M437 1044h0M439.5 1041.8h0M443.7 1039.7h0M669.1 177.4h0M667.8 172.9h0M666.3 169.8h0M664.8 166.7h0M662 162.5h0M661 159.4h0M659.9 156.2h0M659.9 152h0M660.3 148.5h0M659.8 146.3h0M659.5 140.5h0M659.6 137h0M659.1 132.9h0M659.5 129.4h0M659 126.8h0M659.8 122h0M660.4 120.6h0M662.7 117.6h0M665.5 116.1h0M667.8 116h0M672.5 114.5h0M675 114h0M679.9 113.9h0M682.4 113.5h0M686.6 114.9h0M690.8 115.5h0M693.5 115.2h0M698.1 116.6h0M701.9 116.9h0M705.7 118h0M709.5 119.4h0M712.8 118.7h0M717.3 120h0M720.3 120.4h0M722.1 122.3h0M726.3 123.3h0M728.2 125.8h0M730.5 127.9h0M733.2 131h0M734.7 133.8h0M737.1 138h0M738.6 140.5h0M740.3 144h0M741.5 146.9h0M742.9 150.9h0M742.9 153.8h0M743.9 157.9h0M744.2 162.5h0M744.7 164.8h0M745 169.2h0M747 172.1h0M745.7 174.2h0M743.9 175.2h0M740.8 182.4h0M744.9 182.8h0M746.7 185.2h0M748.9 186.2h0M751.8 189.9h0M754.6 191.9h0M758.1 194.6h0M761.2 197.6h0M764.3 198.9h0M769.2 200.1h0M772.6 202.5h0M775.6 202.8h0M780 204.5h0M782.6 206h0M787.1 206.8h0M789.7 207.7h0M793.8 209.9h0M798.6 209h0M799 213.3h0M801.3 213.8h0M806.7 216.1h0M809.3 216.1h0M814.7 216.5h0M818.2 215.3h0M821.8 215.2h0M824 214.9h0M828.3 216.3h0M831.2 216.6h0M828.8 219h0M828.7 223h0M827.2 226h0M825.6 229.1h0M823 231.7h0M821.7 235.2h0M819.3 238h0M816.3 240.6h0M814.4 241.5h0M811.5 242.5h0M805.8 245.8h0M805.1 247.1h0M801.5 248.5h0M798.1 251.5h0M797.7 255.8h0M802.9 257.9h0M805.3 257.5h0M800.2 259h0M797.6 264.7h0M799.5 267.2h0M805.3 268.9h0M810.2 268.4h0M813.3 267.3h0M816.9 266.8h0M819 267.3h0M821.9 268.4h0M825.4 271.6h0M827.7 274.3h0M829.9 276.8h0M833.7 279h0M837.3 279.7h0M840.2 282.6h0M841.6 284.4h0M841.3 286h0M840.8 289.3h0M838.3 294h0M837.9 296.3h0M835.7 298.1h0M833.1 299.9h0M829.2 301.4h0M827.6 300.4h0M823.4 298.9h0M819.7 297.9h0M815.6 297.9h0M811.9 297.3h0M808.3 301.5h0M810.6 306.4h0M814.2 306.4h0M809.7 307.1h0M807.4 310.1h0M804.9 312.5h0M802.3 316.5h0M802.8 320.9h0M801.8 321h0M800 320.4h0M796.1 319.5h0M792.9 319.1h0M790.4 317.9h0M787 316.2h0M783.5 311.8h0M780.3 309.8h0M777.1 308.8h0M775.5 306.4h0M773.5 305.6h0M772.5 302.6h0M774 297.8h0M772.4 293.4h0M771.6 292.9h0M773.3 292.2h0M777.2 291.2h0M781.2 285h0M779.6 282.7h0M778 280.1h0M784.7 280.3h0M781 276.3h0M777.1 273.9h0M775.1 271.9h0M770.9 269.3h0M768.6 269.1h0M769.1 265.9h0M766.7 259.7h0M762.4 258.1h0M757.8 257.3h0M758.2 257.1h0M756 253.8h0M753.9 251.1h0M750.5 248h0M748.3 246.9h0M746.4 242.6h0M745 239.2h0M740.7 236.1h0M738.5 233.9h0M735.4 231.4h0M733.1 236.3h0M732.9 238.9h0M729.3 239.1h0M728.6 238.5h0M724.8 235.9h0M719.3 234.8h0M716.2 236.4h0M712.9 237.1h0M708.1 238.4h0M704.7 241.8h0M706 246.4h0M709.6 249.1h0M709 249.3h0M705.4 251.6h0M702.3 253.6h0M699.9 255.8h0M697.9 257h0M694.1 257.8h0M690.6 257.8h0M687.5 257.1h0M682.7 257h0M679.2 257.4h0M675.7 258.2h0M673.5 256h0M671.7 254.1h0M666.4 251.1h0M663.3 249.6h0M659.7 248.9h0M656.3 249h0M651.7 248.3h0M648.9 246.8h0M644.8 246.1h0M640.9 246.4h0M637.4 245.8h0M632.5 244.7h0M629.7 244.1h0M626.2 242.7h0M621.9 242.5h0M618.5 241.9h0M614.9 242.7h0M611.5 242.2h0M609.4 241h0M604.7 238.1h0M602.1 236.9h0M597.8 237.1h0M591.6 238.1h0M588.8 239h0M585.4 241.3h0M580.9 243h0M579 246.4h0M579.2 250.3h0M576.3 250.1h0M573.3 250.6h0M569.2 249.3h0M564.6 248.3h0M561.8 248.8h0M556.8 250.7h0M553.7 252.1h0M550.5 252.3h0M546.6 253.9h0M544.8 255.7h0M540.6 256.2h0M539.3 255.6h0M537.1 254.1h0M538.5 250h0M538.2 247.5h0M539.6 243.5h0M539.5 238.4h0M538 234.9h0M533.9 232.8h0M529.2 234h0M526.1 237.2h0M522.6 238.6h0M522.2 237.8h0M522.3 237.7h0M526.5 235.4h0M529.4 233.7h0M533.9 232.1h0M534.7 226.4h0M533.8 223.1h0M535.1 222.5h0M537.6 218.2h0M538.1 215.7h0M540.6 212.5h0M542.8 211.6h0M546 210.7h0M549.9 211h0M553.9 212.3h0M557 213h0M559.8 214.8h0M564.5 214.9h0M569.3 215.4h0M570 215h0M574.1 218.9h0M576.4 219.3h0M579.8 221.4h0M584.8 222.1h0M589.6 221h0M591.2 221.9h0M593.6 225.1h0M596.7 226.5h0M600.5 229.9h0M603.8 232.4h0M606.8 234.1h0M610.7 235.2h0M613.1 236.4h0M617.5 237.6h0M622.2 238.5h0M625.5 239.5h0M628.8 241.7h0M632.3 241.9h0M637.4 242.5h0M640.1 240h0M642.1 243h0M648.4 243.6h0M650.9 240.9h0M654.4 239.8h0M656.8 238.2h0M661 237.1h0M664.7 234.4h0M667.2 236.7h0M672.2 233.6h0M673.7 229.7h0M674.8 225.3h0M675.2 222.2h0M675.7 217.1h0M675.9 212.9h0M675 210.4h0M674.7 206.8h0M675.6 203.6h0M677.1 199.8h0M675 194.5h0M674 190.8h0M671.9 187.5h0M670.4 184.9h0M670 179.5h0M683.1 208.1h0M682.8 214h0M682.8 216.2h0M682.7 220.6h0M682.4 224.6h0M679.8 227.9h0M681.6 234.7h0M685.3 232.9h0M688.3 232.1h0M691.8 232.2h0M697.1 229.1h0M699.3 228.8h0M704.4 227.8h0M707.5 226.6h0M709.3 221.1h0M710.9 223h0M716.8 225h0M719.9 224.2h0M724 217.7h0M720.9 215.6h0M718.8 211.5h0M716.7 208h0M714.9 204.3h0M712.6 202h0M709.5 199h0M705.1 197.2h0M701.5 195.3h0M699.6 192.9h0M696.2 192h0M692.5 189.1h0M686.9 190h0M683.8 194.6h0M684.5 198.4h0M684.3 200.9h0M684 205.1h0M791.9 284.5h0M787.7 289.3h0M788.5 294.9h0M789.7 297.3h0M792.9 300.7h0M796.3 303.1h0M800.2 304.4h0M804.5 300.4h0M802.2 297.5h0M803.9 298.5h0M807.3 299.7h0M808.4 295h0M806.3 294.1h0M802.5 290.5h0M799.6 288.6h0M797.5 286h0M733.6 275h0M736.5 272.6h0M739.6 273.3h0M743.9 271.8h0M747.7 269.9h0M750 268.3h0M753.2 267.4h0M750.7 269.1h0M749.2 270.5h0M747.6 274.4h0M745.1 278.5h0M743.1 280.5h0M742.3 284.2h0M740.9 279.8h0M736.3 278.2h0M733 276.6h0M729.8 274.1h0M725.8 272.6h0M721.5 272.1h0M716.5 270.2h0M714.3 270.2h0M710.4 271.5h0M709.7 270.8h0M709.9 269.8h0M713.8 269.4h0M716.7 269.6h0M719.1 270.1h0M723.2 271.1h0M727.6 272.8h0M731.4 274.7h0M580.8 538.7h0M578.3 535.7h0M576.5 534.1h0M572.6 531.2h0M568.8 528.8h0M566.4 528h0M562.8 524.3h0M559 523.1h0M556.2 520.8h0M554.6 517.9h0M552.9 515.5h0M551.5 512.6h0M552.7 513.8h0M555.6 514.1h0M558.1 514.9h0M560.6 518h0M563.6 520.1h0M566.4 522.9h0M569.8 525h0M572.8 528.8h0M575 531.5h0M578.5 533.9h0M580 536.1h0M582.4 540.4h0M586.6 542.1h0M588 544.5h0M591.9 547.1h0M594.7 549.2h0M598 552.4h0M599.4 553h0M599.4 554.3h0M595.7 551.7h0M591.9 551.2h0M588.9 549.3h0M584.7 548h0M584.7 548h0M584.2 543.6h0M722.4 567.4h0M721.9 563.6h0M722.5 561.1h0M724 556.6h0M725.8 554.5h0M727.8 551.8h0M731.3 549.1h0M732.3 547h0M733.5 547.8h0M735.2 553.4h0M741.3 551.2h0M741.4 548.4h0M739.9 541.8h0M735.2 539.8h0M733.7 541h0M734.3 538.8h0M736.3 536.1h0M738.5 533.9h0M740.5 531.6h0M740.9 534.6h0M744.4 536.9h0M748.2 539.4h0M751.5 539.6h0M753.1 542.2h0M754 543.6h0M754.2 548.4h0M755.3 551.3h0M757.2 555.6h0M759.4 559.7h0M761.3 562.5h0M761.8 566.3h0M762.7 567.8h0M762.8 572.6h0M760.1 572.6h0M758.7 578h0M759 578.9h0M755.4 576.1h0M752.6 574.4h0M749 573.1h0M747.6 571.2h0M744.1 568.6h0M746.8 566.2h0M743.1 562h0M742.6 559.2h0M737.5 559.5h0M734.8 561.7h0M735.1 563.6h0M731.5 563.7h0M729.4 563.1h0M724.1 565.2h0M723.3 567.3h0M723.3 567.8h0M596.4 693.9h0M596.2 691.3h0M596.1 687.5h0M594.6 682.8h0M593 678.8h0M592.5 676.2h0M593.8 671.7h0M593.6 667.7h0M595.2 665.8h0M595.8 662.4h0M596.9 658.3h0M596.8 653.3h0M598 650.1h0M597.5 647.4h0M601.3 645.9h0M603.4 644.5h0M607.4 643.8h0M610.3 644.1h0M614.3 644.1h0M617.9 645.7h0M620.7 645.6h0M623.3 647.5h0M626.6 648.3h0M629.3 651.5h0M632.7 654.3h0M637.6 656.4h0M642.2 655.1h0M642.3 653.9h0M645.5 656.4h0M650.1 657.6h0M653.5 659.9h0M656.1 659.3h0M652.5 660.7h0M650.3 664.9h0M650 669.9h0M649.9 674.8h0M651.1 677.7h0M654.6 681.7h0M656.5 684h0M660 685.8h0M661.9 686.3h0M663.3 690.6h0M666.3 693.6h0M668.2 696.2h0M670.3 700.6h0M672.1 702.9h0M673.9 706.3h0M675.6 709.2h0M676.4 713h0M675.9 716h0M676.5 719.7h0M676.4 723.6h0M678.1 729.1h0M678.7 732.8h0M679.6 733.8h0M677.4 737.4h0M678.6 740.7h0M676.5 739h0M676.6 734.9h0M675.4 732h0M671.7 728h0M670 725.9h0M669.3 721.1h0M666.6 719.5h0M661.7 716.1h0M660.7 718.9h0M660 713.7h0M656.5 711.7h0M650.8 709.9h0M648.8 709h0M645.5 706.9h0M639.7 707h0M636.7 706h0M632.4 709.9h0M632 710.1h0M629.1 707.9h0M623.6 707.5h0M622.1 712.1h0M620.3 708.5h0M614.4 709.3h0M612.5 712.7h0M610.8 712.8h0M610.5 708.2h0M607.5 704.5h0M602 702.5h0M599.4 703.1h0M600.2 700.1h0M598.2 697h0M738.8 713.4h0M738.8 716.3h0M741.8 717.6h0M738.1 718.9h0M733.8 720.2h0M731.5 721.6h0M727.2 721.2h0M725.6 720.5h0M723.6 719.5h0M720.1 717h0M724 719.2h0M728.8 718.7h0M733.3 716.3h0M736.4 716.4h0M577.8 757.6h0M578.2 754.1h0M577.8 752.8h0M581.2 748.9h0M582.4 745h0M584.5 742.2h0M586.8 739h0M587.2 735.6h0M589.9 733.3h0M592.1 728.3h0M594.2 725.6h0M595.3 722h0M596.1 717.3h0M596.1 713.4h0M598.2 714.7h0M600.1 713.1h0M600.2 717h0M601.8 718.3h0M598.1 720.4h0M595.7 724.3h0M594 727.9h0M592.8 730.9h0M589.7 735.1h0M588.1 737.7h0M586.2 741.7h0M584.2 743.5h0M582.1 747.4h0M580.9 752h0M578.7 754.8h0M613.2 777.2h0M613 779.4h0M611.3 781.9h0M610.4 786.3h0M609.6 789.5h0M610 787.1h0M610.2 783.1h0M607.3 780.5h0M611.3 780.6h0M737.1 858.3h0M733.4 858.9h0M730 859.9h0M726.6 860.4h0M722.8 861.5h0M719.2 861.3h0M716.2 861.9h0M711.1 861.3h0M708 861.1h0M703.8 860.2h0M700.9 858h0M698.7 857.6h0M695 854.1h0M693.3 853.3h0M692.7 849.3h0M693.2 847.4h0M695.6 845.2h0M698.4 844.2h0M701.4 843.7h0M705.9 839.3h0M707.3 833.3h0M705.6 831.2h0M703.9 831.2h0M706 830.5h0M709 832.2h0M715.6 830.9h0M716.8 829h0M719.4 824.5h0M720.5 819.9h0M721.3 819.7h0M724.8 821.7h0M726.2 822.5h0M728.3 826.1h0M730.1 827.1h0M729.8 830.9h0M727.2 828.2h0M722.1 829.5h0M720.1 832.8h0M723 838.1h0M727.9 840h0M730.9 840.7h0M736.1 840.4h0M740.4 839.4h0M740.6 839.4h0M744.8 840.5h0M745 843.5h0M743.6 844.9h0M741.3 847.3h0M739.8 851.8h0M738.1 855.3h0M624 888.6h0M623.2 885.6h0M622.6 882.7h0M620.4 876.4h0M617.9 875.2h0M617.2 872.7h0M616.7 868.3h0M615.7 864.1h0M613.8 860.6h0M611.9 857.3h0M611.4 853.3h0M610.5 851.3h0M608.3 846.4h0M605 843.9h0M608 844h0M610.6 841.2h0M611.2 841.7h0M614.1 841.1h0M611.7 844.7h0M612.1 847.9h0M612.8 853.7h0M614.7 857.5h0M616 860.5h0M617.2 864.6h0M618.7 867.9h0M619.8 871.3h0M622.7 874.3h0M626.4 877.3h0M627.3 879.5h0M627.8 881.7h0M628.8 887.7h0M630.7 890.1h0M632.2 893.1h0M634.8 896.7h0M635.1 899.4h0M637.1 903.8h0M640.7 906.3h0M644.6 907.9h0M642.1 911.1h0M648 915.3h0M650.9 913h0M651.7 911.7h0M654.1 914.9h0M657.8 916.6h0M660.6 917.1h0M663.8 918.5h0M668.2 920.8h0M672.2 920.6h0M671 922.7h0M667.3 921.2h0M664.2 918.9h0M661.7 918.2h0M656.9 916.5h0M652.5 916.2h0M648.8 915.7h0M645.9 916.8h0M643 917h0M637.3 918.5h0M634.4 922.8h0M632.6 925.7h0M629.6 925.2h0M628.1 925.4h0M625.6 926h0M625.5 922.8h0M623.9 920.6h0M627.5 919.1h0M629.6 918h0M633.1 913.2h0M632.3 908.4h0M629.7 906.4h0M628.9 903.8h0M627.9 899.8h0M626.4 896.3h0M624.6 892.4h0M707.1 937.4h0M704.7 935.4h0M700.8 935.3h0M696.6 932.2h0M694.5 930.8h0M689.6 928.9h0M686.5 928.4h0M683.6 927.2h0M681.3 925.6h0M682.3 925.5h0M684.4 926.1h0M687.8 928.6h0M691.6 929.4h0M695.6 931h0M698.3 932.1h0M702.9 934.8h0M707.9 935.1h0M711 934.6h0M713.7 933.5h0M717.2 934.4h0M721.4 935.5h0M725.3 936.7h0M726.5 938.9h0M728.6 940.5h0M726.4 942.9h0M723.5 943.9h0M718.4 946.7h0M716.3 949.2h0M714.8 951.6h0M713.6 954.4h0M712.3 951.7h0M712.3 948.3h0M712.1 945.5h0M711.7 940h0M662 984.6h0M661.4 985.8h0M659.9 985.6h0M657.8 982.1h0M655 979.8h0M654.7 978.9h0M655.9 977.5h0M657.7 980.8h0M659.7 982.8h0M929.3 372h0M934.7 369.3h0M933.9 365h0M934.6 359.9h0M930.4 356.3h0M929.6 354.1h0M928 350.6h0M926.6 349.7h0M928 349h0M930.6 352.8h0M934.5 354.5h0M938.4 357.1h0M942.2 357.7h0M944.9 359.7h0M946.9 361.1h0M951.9 362h0M956.2 362h0M959.7 359.8h0M961.4 363.7h0M964.4 365.3h0M968.6 367.3h0M970.2 368.8h0M971.1 369.4h0M968.9 371.6h0M966.8 373.8h0M962.6 375.9h0M960.5 378.5h0M958.9 380h0M953.7 380.7h0M950.2 381.2h0M948.3 381.1h0M945.9 379.2h0M942.3 376.6h0M938.8 374.9h0M935.9 373.6h0M933.1 376.1h0M929.8 375.6h0M927 376h0M923 377.2h0M918.1 376.5h0M918 375.2h0M915.4 372.4h0M913.7 370.8h0M914.4 369h0M917.5 366.8h0M919.9 365.4h0M922.6 365.7h0M925.6 367.8h0M928.6 366.9h0M881.9 378.4h0M879.4 377.6h0M874.4 376.2h0M871.7 374.7h0M868.9 372.5h0M867 370.8h0M863.8 367.4h0M859.3 366.6h0M859 365.1h0M862 362.9h0M863.7 365.5h0M866.9 367.9h0M870.2 368.5h0M875.3 369.4h0M879 370.3h0M881.1 370.7h0M885.6 373.3h0M888.6 374.1h0M892.8 375.4h0M892.3 376.3h0M889 376.8h0M885.3 376.9h0M902.2 374.2h0M901.4 378.2h0M900 374.8h0M895.6 371.1h0M892.2 369.8h0M889.1 369.8h0M887.1 367.3h0M888.6 368.1h0M893.1 368h0M897.1 366.7h0M898.4 367.5h0M903.8 369.1h0M906 370.2h0M908.6 373h0M910.7 373h0M907 374h0M940.8 389h0M938.7 392.3h0M936.6 393.6h0M933.8 395.9h0M930 398.5h0M926 401.3h0M924.4 403.1h0M922.2 402.9h0M923.5 402h0M925.9 399.5h0M930.4 397h0M933.5 395.1h0M936.7 392.1h0M938.6 388.8h0M940.4 388.4h0M898.6 562h0M900.2 558.2h0M902.7 554.9h0M904.5 552.5h0M905.2 548.7h0M907.2 545.8h0M910.1 542h0M911.9 540.2h0M914 537.6h0M918.3 536.3h0M920.1 535.6h0M921 535.8h0M919 536.9h0M917.6 540.3h0M916.9 543.1h0M914.1 543.7h0M913.3 550.9h0M911.8 551.7h0M912.6 553.9h0M909.5 551.5h0M903.6 555.7h0M902.3 560.3h0M901.9 562.6h0M899.4 565.3h0M896.8 570.7h0M896.5 573.4h0M896.6 579.1h0M896.5 583.5h0M897.2 587.1h0M899.3 590.3h0M897.9 591.2h0M898.2 589.3h0M896.3 587.2h0M896 582.6h0M894.5 580.1h0M894 576.3h0M895.6 572.4h0M895.4 568.7h0M896.7 565.3h0M914.4 566.2h0M914.9 568.4h0M913.2 567.9h0M909.8 566h0M907.6 564.3h0M911.4 564.9h0M913.7 559.7h0M915.2 558h0M914.6 559.1h0M914.9 561.1h0M784.9 572h0M781.5 569.8h0M778.5 569.2h0M775 571.9h0M775.9 568.5h0M777.8 568h0M783.6 565h0M781.7 561.2h0M783.3 563.1h0M786.8 567h0M787.2 568.2h0M786.5 570h0M911.8 590.3h0M912.1 588.6h0M912.5 583.4h0M911.9 580.5h0M912.4 576.4h0M912.4 574.7h0M913.4 575.7h0M912.9 578.6h0M913.6 583h0M912.6 586.9h0M912.3 589.2h0M722.1 600h0M721.8 596.3h0M719.4 594h0M717.4 590.7h0M714.6 587.1h0M712.3 584.5h0M710 581.6h0M704.2 579h0M703.2 578.4h0M700.9 577.6h0M703.4 576.4h0M705.9 576.2h0M707.4 577.5h0M712.6 581.8h0M714 581.8h0M715.6 584.4h0M719.5 586.5h0M724.6 588.6h0M727.7 588.5h0M731.4 589.6h0M736.6 589.7h0M741.9 586.2h0M743.1 582.9h0M744.9 582.7h0M743.6 585.2h0M748.4 588.5h0M752.6 586h0M757.1 584h0M758.7 582.6h0M763.5 582.3h0M765.6 581.5h0M770.2 578h0M771 577.1h0M773.9 579.8h0M779.6 580.2h0M781.9 580.5h0M785 579h0M785.4 582.9h0M784.6 585.3h0M784.6 588.9h0M783.7 592.6h0M781.4 595.1h0M778.6 597.6h0M777.1 599.2h0M773 601.5h0M770.6 601.7h0M766.6 604.2h0M763.5 603.2h0M759.5 604.5h0M754.5 605.1h0M752.5 604.6h0M748.4 605.1h0M742.9 606.7h0M742.9 609h0M741 604.7h0M736.6 603h0M732.2 601.1h0M728.7 599.6h0M725.9 598.5h0M970.5 632.7h0M975.6 633.4h0M978.4 631.4h0M980.8 628.5h0M983.3 627.5h0M988.3 625.7h0M989.7 625.2h0M994.5 624.2h0M998.4 622.9h0M1002.3 621.7h0M1004.4 619.9h0M1009 619.1h0M1011.4 618.9h0M1015.7 620.2h0M1018.6 622.5h0M1021.8 623h0M1025.4 624.9h0M1028.4 626.5h0M1032.3 629.4h0M1034.8 630.2h0M1038.2 633.4h0M1042.2 634.5h0M1044.6 636.2h0M1048.3 638.5h0M1050.6 641.5h0M1054.8 642.7h0M1056.8 644.2h0M1059.6 646.5h0M1061.3 649.6h0M1062.6 652.5h0M1063.4 656.7h0M1064.7 660.3h0M1065 664h0M1066.4 667.3h0M1065.3 670.4h0M1064.7 673.7h0M1064.1 677h0M1064.3 682.2h0M1065.4 685.5h0M1066.1 689.4h0M1065.6 691.9h0M1064.2 697.2h0M1062.8 699.8h0M1060.9 702.9h0M1060.2 706.7h0M1058.6 709.8h0M1058.3 713.2h0M1056.4 718.4h0M1056 720.5h0M1054.2 724.8h0M1053.1 728.2h0M1051.7 730.3h0M1050 734.2h0M1048.4 737.7h0M1046.5 742.2h0M1044.6 744.3h0M1042.1 747.1h0M1040.3 749.6h0M1037.2 752.7h0M1036.1 755.3h0M1032.4 757.6h0M1030.7 760.5h0M1026.3 762.2h0M1024.3 764.4h0M1020.8 769.2h0M1019 770.5h0M1016.9 772.5h0M1013.4 774.5h0M1012.4 777.8h0M1007.3 775.8h0M1003.7 776.1h0M999.5 776.6h0M996.5 778.6h0M993.4 779.8h0M989.3 780.7h0M986 781h0M981.2 781.5h0M978.7 781.4h0M975.1 782.3h0M970.3 783.2h0M966.7 786.1h0M965.3 784h0M961 781.1h0M957.4 781h0M952.6 781.4h0M948.8 782.4h0M947.4 783.4h0M944.9 782.9h0M938.7 782.8h0M935.3 782.9h0M931.6 784.3h0M928.8 785.1h0M923.7 785.6h0M920.5 785.8h0M917.8 786.5h0M914.4 787h0M915.2 784.5h0M913.2 780.4h0M911.8 777.3h0M910.7 775h0M910.7 770.6h0M911.9 767.4h0M911.7 763.6h0M912 758.7h0M911.8 755.7h0M911.5 751.6h0M911.3 747.3h0M910.3 743.1h0M909.6 738.5h0M906.9 736.8h0M904.7 733.6h0M903.7 729.8h0M901.6 727.4h0M900.1 723.7h0M899.8 720.3h0M898.5 716.9h0M896.7 712.3h0M894.7 708.6h0M893.6 706.7h0M893.9 703.7h0M896.3 700.4h0M896.6 696.3h0M898.7 697.9h0M900.3 697.4h0M903.1 700.8h0M907.7 700.7h0M910 698.4h0M912.2 701.1h0M914.5 703.6h0M919.6 706.5h0M922.9 704h0M927.9 700.2h0M928.2 697.9h0M930.8 693.8h0M931.7 691.3h0M933.7 686.6h0M933.5 682.4h0M930.8 679h0M933.6 680h0M938.6 676.6h0M941.2 673.2h0M943.3 669.9h0M945.6 667.7h0M946.9 662.7h0M947.8 660.3h0M949.7 659.7h0M954.6 657.4h0M956.3 653.1h0M957 650.4h0M959 648h0M960.7 644h0M963.4 640.5h0M965 636h0M962.7 632h0M967.1 633.2h0M810 789.5h0M809.9 792h0M812.5 795.5h0M809.9 796.1h0M809.8 798h0M807 794.5h0M804.5 792.9h0M801.3 790h0M796.7 787.1h0M793.7 786.5h0M791.9 784.8h0M792.9 784.9h0M797.5 783.9h0M801.5 780.3h0M803.6 778.7h0M806.1 777.3h0M809.6 777.9h0M809.9 777.8h0M811.3 780.8h0M810.4 784.6h0M751.8 787.6h0M752.1 789.7h0M754.9 792.9h0M750.3 794h0M747.6 797.7h0M749 802.9h0M746.6 799.4h0M745.5 800.1h0M747.8 795.8h0M749.7 791.9h0M750.1 789.2h0" fill="none" stroke="#d3d3d3" stroke-width="5.5" stroke-linecap="round"/>
<path d="M434.9 549.6 439.2 548.5 441.4 550.7 440.3 553.9 443.6 556.1 446.8 553.9 447.9 550.7 452.2 549 453.3 551.8 450.1 555 445.8 557.7 441.4 560.4 438.2 562.6 435.5 560.4 437.1 557.2 436 553.9ZM426.2 556.1 430.6 557.7 429 560.4ZM462 522.5 466.3 524.7 470.7 524.1 471.8 526.8 468.5 529 466.3 528.5 464.2 530.1 462 532.2 460.9 529 463.1 526.3ZM442.5 539.8 446.8 538.8 444.7 542ZM455.5 549.6 459.8 550.1 462 553.4 458.8 552.8ZM470.7 552.8 475 552.3 473.9 555.5 471.2 555.5ZM478.2 547.4 484.8 546.3 485.8 550.7 484.8 553.9 481.5 550.7 479.3 549.6ZM473.9 518.2 479.3 516.5 484.8 515.5 485.8 517.6 480.4 518.7 476.1 520.3ZM475 525.8 477.2 525.2 479.3 529 477.2 529.5ZM483.7 523.6 485.8 525.8 482.6 525.8ZM488 528.5 489.6 529 488.5 530.1ZM501 506.2 504.2 508.4 503.2 510ZM528.1 505.2 531.3 504.6 533.5 501.9 536.8 503 534.6 506.2 532.4 509.5 529.7 510.6 529.2 507.9ZM482.6 537.1 485.8 538.8 486.9 540.9 484.8 540.4ZM464.2 535.5 466.9 536 465.8 538.2ZM515.5 463.9 520.9 461.8 528.5 460.7 531.8 462.8 527.4 465 522 465 517.7 466.1ZM525.2 453.1 531.8 452 532.3 454.2 526.3 455.2ZM489.5 463.9 493.3 465 491.7 469.3 489 467.2ZM499.2 461.8 502.5 465 505.8 469.3 509 470.4 506.8 467.2 503.6 463.4 501.4 461.2ZM574 448.8 577.2 449.8 580.5 458.5 577.2 457.4 575.1 453.1ZM569.7 458.5 571.8 459.6 572.4 465 570.2 463.9ZM545.8 482.3 548 483.4 550.2 486.7 547.5 488.3 546.4 485.6ZM473.2 443.3 475.4 444.4 473.8 446ZM729.9 205.2 733.2 206.2 732.6 209 730.5 208.4ZM741.8 216 744 218.2 743.5 222.5 746.7 223.6 742.9 225.8 740.8 222.5ZM732.1 220.3 735.3 218.2 736.4 221.4 733.2 223.6ZM729.9 214.9 731.2 215.5 729.7 219.2ZM753.8 233.3 756.5 233.3 754.8 235.5ZM740.8 229 742.4 231.2 741.3 232.2ZM677.9 224.7 681.2 224.1 680.6 226.8ZM681.2 236.6 685.5 235.5 684.4 238.8ZM700.1 236.6 702 237.7 700.7 240.4ZM692 237.7 690.9 239.8 692.8 240.9ZM719.6 230.1 722.3 227.9 722.3 231.2ZM396.5 847.4 401.9 843.8 407.3 842.5 409.5 843.6 414.9 844.7 421.4 845.8 427.9 846.8 433.3 847.9 436.6 850.1 443.1 849 444.2 850.6 437.7 852.2 436.6 854.4 438.8 858.8 440.9 864.2 439.3 864.2 436.6 859.8 434.4 855.5 431.2 851.2 425.8 849.5 421.4 848.5 418.2 847.4 413.8 847.9 410.6 852.2 406.2 853.3 407.9 847.4 403 847.9 396.5 852.2 394.9 850.6ZM424.7 834.9 427.4 834.4 426.8 836.5ZM407.9 838.2 412.8 837.6 409.5 839.8ZM416.5 855.5 418.4 853.3 419 857.7ZM426.8 856.6 428.5 854.4 429.2 858.8Z" fill="#fff" stroke="#fff" stroke-width="0.6" stroke-linejoin="round"/>
<path d="M225.3 564h0M227.7 565.3h0M246.7 502h0M245.3 504h0M474.5 443.5h0M531.5 503.5h0M680 225.3h0M684 237.3h0M741.3 224h0M772 226.7h0M773.3 225.3h0M742.7 224.3h0M739.6 226.7h0M772.7 226.7h0M774.9 226h0M791.3 253.6h0M793.6 251.6h0M700.7 238.7h0M730 207.3h0M570 239.2h0M634 448h0M636.7 446.7h0M636 450.7h0M633.3 452h0M653.3 442.7h0M654.7 446.7h0M621.3 434.7h0M626 432.7h0M601.3 449.3h0M752 568h0M926.9 371.7h0M957.5 685h0M956.7 683h0M935 700.8h0M933.3 702.5h0M937.5 691.3h0M929.2 713.3h0M646 699.8h0M648.2 700.5h0M661.8 704.2h0M664 703.5h0M635.5 686.2h0M574.8 767.2h0M418 830h0M361 727h0M368 732h0M374 741h0M368 748h0M378 750h0M390 775h0M391 785h0M380 860h0M411.7 413.6h0M411.5 428h0M412.8 429.4h0" fill="none" stroke="#fff" stroke-width="2.4" stroke-linecap="round"/>
<path d="M500 398.8h0M506.2 410h0M504.5 480.2h0M513.5 482.5h0M518 475.8h0M516.5 494.5h0M539.8 433.8h0M545 439.8h0M550.2 439h0M548 449.5h0M551 452.5h0M556.2 450.2h0M561.5 443.5h0M540.5 457h0M560 454h0M558.5 460h0M554 466h0M558.5 512.2h0M573.5 502.8h0M481.2 491.5h0M506 409.8h0M441.5 436h0M690.4 195.6h0M698.4 200.9h0M689.3 205.3h0M706 206.3h0M710.7 210h0M709.1 216.3h0M691.7 220h0M682.7 220.7h0M719.3 252.7h0M725.3 244h0M730.7 244.7h0M692 220h0M690 205.3h0M698.7 202h0M706 206h0M710.7 210h0M708.7 216.7h0M726 244.7h0M730 244.7h0M719.3 252.7h0M715.3 260h0M710 264.7h0M703.3 260.7h0M700.7 268h0M695.3 260h0M692.7 256.7h0M702.7 254h0M759.3 274h0M756.7 281.3h0M758.7 260.7h0M755.3 254.7h0M804 258h0M793.3 292h0M822 306h0M816.7 310h0M822.7 312h0M812 316.7h0M808 336.9h0M766.7 280.7h0M769.3 285.3h0M530.3 248.3h0M586.3 248.3h0M590.8 246.7h0M595.8 245.8h0M600.8 246.7h0M543.7 262.5h0M544.2 266.7h0M545.5 302h0M720.9 495.7h0M724.3 501.6h0M733.3 519.3h0M721.1 495.7h0M724.3 501.3h0M733.6 519.7h0M736 524h0M719.6 528.9h0M719.6 534.9h0M723.6 535.3h0M727.3 538.7h0M722 545.7h0M726.9 545.3h0M730 564h0M733.3 566.7h0M737.3 566.7h0M737.3 571.3h0M730 571.3h0M725.3 576.7h0M715.3 579.7h0M743.3 582h0M774.1 632h0M855.7 361.7h0M920.7 396h0M888.7 426.4h0M891.3 427.7h0M900.7 430.3h0M893.7 433.3h0M897.6 438.3h0M901.3 596.9h0M904 623.1h0M929.3 640.9h0M926 654.3h0M947.7 651.7h0M959.6 631.7h0M904.2 623h0M929.3 640.8h0M925.8 654.2h0M947.5 652h0M937.5 667.5h0M928.3 671.7h0M930.8 675.8h0M912.8 678.8h0M927.2 684.5h0M901.7 690.5h0M910 690h0M905.8 692.5h0M960 631.7h0M1011.7 778.8h0M965 787.5h0M1060.8 709.5h0M595 776h0M601 778.5h0M605.5 777h0M660.2 720.8h0M404 860h0M409 861h0M503 904h0M496 908h0M504 910h0M508 910h0M507 916h0M510 918h0M509 923h0M511 933h0M512 936h0M462 871.6h0M451 873.6h0M496.7 907.8h0M503.3 904.2h0M503.8 910.5h0M508.3 909.7h0M525 909.7h0M613.3 910.5h0M431.7 870h0M440 870.8h0M450.8 873.3h0M462.2 871.7h0M515 952.2h0M479.7 1029.3h0M710.4 722.6h0M750 716h0M660 720.4h0M745.4 784.6h0M734.6 813.6h0M733 820h0M613.6 910.4h0M628 877h0M613.3 910.4h0M285.3 391.1h0M288.3 393.7h0M431.2 409.5h0M429.6 423.6h0M429 428.5h0M446.4 401.2h0M465.8 531.2h0M414.9 853.9h0M419.5 851.2h0M431.4 852.5h0M425.8 854.6h0" fill="none" stroke="#d3d3d3" stroke-width="5.5" stroke-linecap="round"/>
<path d="M200.7 500.4h0M195.3 502.7h0M185.6 507.6h0M208.7 506h0M211.3 506.7h0M219.7 505.5h0M248 508.3h0M170 515.7h0M170.4 520.9h0M165.3 522.3h0M176.3 520h0M179.6 521.3h0M181.1 519.3h0M194 520h0M198 518.7h0M199.6 524h0M212.4 516.4h0M212.4 524.9h0M225.6 520.7h0M195.1 528.1h0M202 528.3h0M157.7 530.7h0M164 530.4h0M170.4 531.3h0M173.7 530.3h0M174.4 534.3h0M160 535.3h0M179.1 536.9h0M180.7 541.3h0M172 542.4h0M174.4 542h0M161.7 542.4h0M155.3 547.3h0M177.7 548.4h0M169.6 550.7h0M165.6 554.7h0M224.3 534.5h0M215.7 537.6h0M239.9 534.3h0M205.7 545.3h0M201.7 555.1h0M220.9 548.7h0M222.9 550.7h0M227.3 552.7h0M230.3 549.1h0M225.3 550h0M242.4 547.1h0M252.3 545.7h0M192.9 571.1h0M242.3 573.2h0M493.8 346.2h0M482 353.2h0M501.2 384.2h0M392.5 390h0M384.2 407h0M384.2 411.2h0M388 411.2h0M390 415h0M394.2 417.5h0M391.2 421.2h0M385 422.5h0M393.8 426.2h0M400 434.5h0M440.8 446.5h0M455 449.5h0M456.2 452h0M479.2 458h0M487.5 454.2h0M488.8 451.2h0M517.5 424.5h0M523.8 441.2h0M529.5 442.5h0M534.2 445.5h0M520 447.5h0M510.5 451h0M507.5 458.2h0M515 459h0M528.2 476.8h0M536.8 486h0M525 495h0M519.2 502.5h0M480.5 502h0M486.2 500.8h0M505.8 516.2h0M514.5 517.5h0M526.5 518h0M547.5 504.2h0M566.5 497.5h0M568 471.8h0M578.8 474.5h0M581.2 471.2h0M588.8 460.5h0M597.5 458.2h0M601.2 387.8h0M613 395h0M593.8 397h0M601.8 416.8h0M599.2 423h0M602.5 427.5h0M603.8 431.2h0M605 434.5h0M640.5 452.2h0M650 460h0M643.2 465h0M657.5 462.5h0M585.5 543.2h0M435.8 529.5h0M450 539.5h0M452.5 537.5h0M460 535.5h0M460.8 543.2h0M481.2 539.5h0M498.8 532.5h0M513.8 536.8h0M511.2 543h0M514.5 544.2h0M517.5 545h0M500.8 547h0M462.5 559h0M475.5 560h0M450 565.5h0M436.2 569.5h0M475.5 569.5h0M463.8 571.2h0M461.2 574.5h0M467.5 578.8h0M441.8 584h0M446.8 589.2h0M454.5 592h0M460.5 593h0M480 586.8h0M478.8 590h0M485.8 587h0M503.8 575h0M506.8 573h0M510.8 569.5h0M512 563.2h0M516.2 562.5h0M674 125.7h0M694.4 153.5h0M771.3 206.7h0M724.3 223.7h0M674.7 248.9h0M771.5 206.7h0M819.7 235.7h0M784.1 285.1h0M724.4 224h0M548 223.5h0M554.7 231.8h0M577.2 224.8h0M674.5 248.8h0M548.3 312h0M660.4 442.4h0M667.3 431.5h0M670.7 436.3h0M672.5 445.5h0M680.3 450.8h0M680.4 433.3h0M683.3 432.4h0M683.6 438h0M688.3 435.6h0M689.1 441.3h0M690.5 448.3h0M694.4 450.7h0M697.6 440.9h0M702.7 447.7h0M702.9 454.9h0M711.1 456.1h0M721.6 454.9h0M682.7 464.7h0M695.7 470.3h0M716.3 467.7h0M724 467.1h0M744.3 536h0M750.8 556.8h0M866.5 367.6h0M866.5 369.1h0M878.3 376.1h0M921.7 367.6h0M940.5 361.7h0M931.7 396.3h0M995 665.3h0M969.2 695.7h0M959.5 710.2h0M964.8 721h0M957.2 725.3h0M929 723.2h0M616 656.2h0M642.7 656.5h0M601.5 667.5h0M625.5 670.6h0M642.7 684.3h0M660.5 697.6h0M627.2 705.6h0M552.5 770.7h0M555.2 773.2h0M556.8 775.2h0M553.8 775.5h0M563.4 783.9h0M552.4 791.5h0M383 738h0M335.6 743.2h0M368.6 776.6h0M372.4 775.4h0M326.8 783.4h0M335.4 790.6h0M335.4 793h0M372 804.2h0M321.8 814.8h0M287.4 827.2h0M317.2 837.6h0M337.8 833.6h0M385.2 824.6h0M378.8 833.6h0M409 832h0M372 870.2h0M389.6 867h0M504.2 875.4h0M519.7 984.2h0M522 1014.3h0M808 776.8h0M801.8 783.6h0M811.4 796.4h0M717.6 854h0M737 847.4h0M739.6 845.6h0M715.3 938.9h0" fill="none" stroke="#9a78ea" stroke-width="5.5" stroke-linecap="round"/>
<path d="M423.8 421.8h0M554.5 498h0M427.5 540h0M428.8 538h0M490 554h0M697.9 181.1h0M730.1 192.7h0M723.3 218.7h0M726 228.7h0M723.1 218.9h0M726 228.4h0M788.8 310.7h0M546.3 214.2h0M549.8 236.8h0M692.1 422h0M734 556.4h0M957.1 377.1h0M967 727.8h0M985 730.5h0M968.5 763.2h0M961 776.2h0M610 646.8h0M630.4 658.2h0M673.8 707.5h0M571.8 779.5h0M574.8 778.8h0M387 748.2h0" fill="none" stroke="#5b3af4" stroke-width="5.5" stroke-linecap="round"/>
<path d="M528.8 490.5h0" fill="none" stroke="#1a0cf6" stroke-width="5.5" stroke-linecap="round"/>
</g>
<g id="axes" stroke="#000" fill="none">
<path d="M95.4 50.7V1120.8" stroke-width="3"/>
<path d="M93.9 1119.4H1117.7" stroke-width="3"/>
<path d="M141.3 1120v4.5M307 1120v4.5M472.8 1120v4.5M638.6 1120v4.5M804.4 1120v4.5M970.2 1120v4.5" stroke-width="3"/>
<path d="M94.5 277.2h-4.5M94.5 571.2h-4.5M94.5 865.2h-4.5" stroke-width="3"/>
</g>
<g class="tick" text-anchor="middle">
<text x="141.3" y="1148">-15</text>
<text x="307" y="1148">-10</text>
<text x="472.8" y="1148">-5</text>
<text x="638.6" y="1148">0</text>
<text x="804.4" y="1148">5</text>
<text x="970.2" y="1148">10</text>
</g>
<g class="tick" text-anchor="end">
<text x="88.3" y="287.6">10</text>
<text x="88.3" y="581.6">0</text>
<text x="88.3" y="875.6">-10</text>
</g>
<text class="atitle" text-anchor="middle" x="604.5" y="1181">umapNC_1</text>
<text class="atitle" text-anchor="middle" transform="translate(34.2,585.8) rotate(-90)">umapNC_2</text>
<text class="title" text-anchor="middle" x="606" y="37">Gm47920</text>
<g id="legend">
<rect x="1130.1" y="547.6" width="15.4" height="76.4" fill="url(#cb)"/>
<path d="M1130 569h3.2M1142.3 569h3.2M1130 596.3h3.2M1142.3 596.3h3.2M1130 623.6h3.2M1142.3 623.6h3.2" stroke="#fff" stroke-width="0.7" opacity="0.55"/>
<g class="leg">
<text x="1153.5" y="578.4">1.0</text>
<text x="1153.5" y="605.7">0.5</text>
<text x="1153.5" y="633">0.0</text>
</g>
</g>
</svg>
</body>
</html>
